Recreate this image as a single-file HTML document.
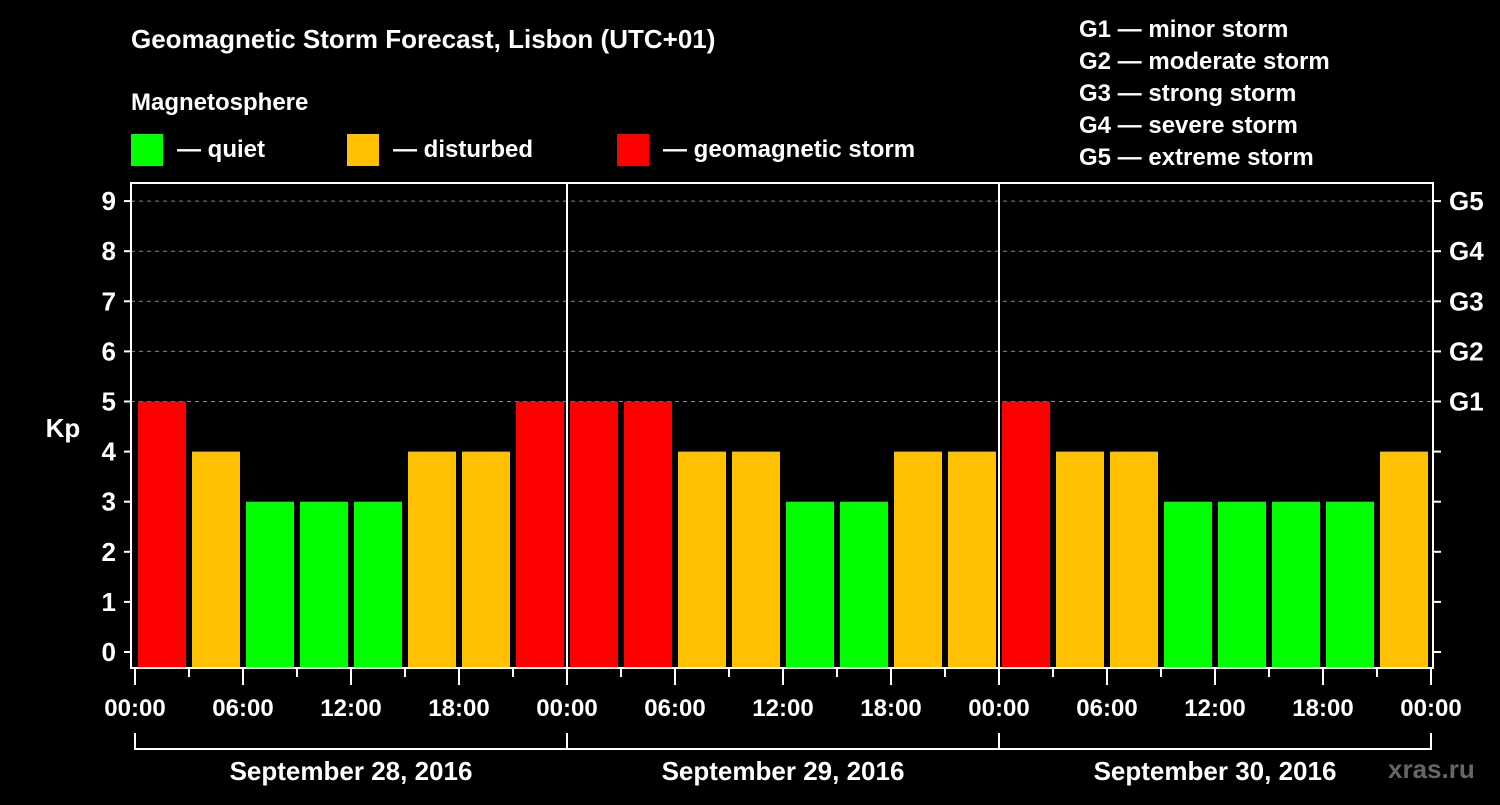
<!DOCTYPE html>
<html><head><meta charset="utf-8"><style>
body{margin:0;background:#000;width:1500px;height:800px;overflow:hidden}
svg text{font-family:"Liberation Sans",Arial,sans-serif;font-weight:bold;fill:#fff}
</style></head><body>
<svg id="c" width="1500" height="800">
<rect width="1500" height="800" fill="#000"/>
<text x="131" y="48" font-size="26">Geomagnetic Storm Forecast, Lisbon (UTC+01)</text>
<text x="131" y="110" font-size="24">Magnetosphere</text>
<g><rect x="131" y="134" width="32" height="32" fill="#00ff00"/><text x="177" y="157" font-size="24">— quiet</text></g>
<g><rect x="347" y="134" width="32" height="32" fill="#ffc000"/><text x="393" y="157" font-size="24">— disturbed</text></g>
<g><rect x="617" y="134" width="32" height="32" fill="#ff0000"/><text x="663" y="157" font-size="24">— geomagnetic storm</text></g>
<g font-size="24">
<text x="1079" y="37">G1 — minor storm</text>
<text x="1079" y="69">G2 — moderate storm</text>
<text x="1079" y="101">G3 — strong storm</text>
<text x="1079" y="133">G4 — severe storm</text>
<text x="1079" y="165">G5 — extreme storm</text>
</g>
<defs><clipPath id="pc"><rect x="135" y="183" width="1296" height="485"/></clipPath></defs>
<g id="grid"></g>
<g id="bars" clip-path="url(#pc)"></g>
<g id="axes"></g>
<text x="1388" y="778" font-size="26" fill="#555" style="fill:#666">xras.ru</text>
</svg>
<script>
const kpValues=[2,5,4,3,3,3,4,4,5,5,5,4,4,3,3,4,4,5,4,4,3,3,3,3,4];
const yTicks=[0,1,2,3,4,5,6,7,8,9];
const gLabels=["G1","G2","G3","G4","G5"];
const hourLabels=["00:00","06:00","12:00","18:00","00:00","06:00","12:00","18:00","00:00","06:00","12:00","18:00","00:00"];
const dayLabels=["September 28, 2016","September 29, 2016","September 30, 2016"];
const NS="http://www.w3.org/2000/svg";
const X0=135,PXH=18,Y0=652,PXU=50.1;
const xs=h=>X0+h*PXH, ys=v=>Y0-v*PXU;
function mk(p,t,a){const e=document.createElementNS(NS,t);for(const k in a)e.setAttribute(k,a[k]);p.appendChild(e);return e;}
const grid=document.getElementById('grid'),bars=document.getElementById('bars'),axes=document.getElementById('axes');
[5,6,7,8,9].forEach(v=>{const l=mk(grid,'line',{x1:131,x2:1431,y1:ys(v),y2:ys(v),stroke:'#888','stroke-dasharray':'4,4','stroke-width':1});

});
kpValues.forEach((v,i)=>{const c=(i-0.5)*3+0; const cx=xs(c+0.0);
const col=v>=5?'#ff0000':v>=4?'#ffc000':'#00ff00';
const r=mk(bars,'rect',{x:cx-24+0.0,y:ys(v),width:48,height:668-ys(v),fill:col});

});
[1,2].forEach(d=>{const l=mk(axes,'line',{x1:xs(24*d),x2:xs(24*d),y1:183,y2:668,stroke:'#fff','stroke-width':2});

});
mk(axes,'rect',{x:131,y:183,width:1302,height:485,fill:'none',stroke:'#fff','stroke-width':2});
yTicks.forEach(v=>{mk(axes,'line',{x1:124,x2:131,y1:ys(v),y2:ys(v),stroke:'#fff','stroke-width':2});
mk(axes,'line',{x1:1433,x2:1441,y1:ys(v),y2:ys(v),stroke:'#fff','stroke-width':2});
const t=mk(axes,'text',{x:116,y:ys(v)+9,'text-anchor':'end','font-size':26});t.textContent=v;

});
gLabels.forEach((g,i)=>{const t=mk(axes,'text',{x:1449,y:ys(i+5)+9,'font-size':26});t.textContent=g;

});
const kp=mk(axes,'text',{x:63,y:437,'text-anchor':'middle','font-size':26});kp.textContent='Kp';


for(let h=0;h<=72;h+=3){const major=h%6===0;mk(axes,'line',{x1:xs(h),x2:xs(h),y1:668,y2:major?685:677,stroke:'#fff','stroke-width':2});}
hourLabels.forEach((s,i)=>{const t=mk(axes,'text',{x:xs(i*6),y:716,'text-anchor':'middle','font-size':24});t.textContent=s;

});
mk(axes,'line',{x1:xs(0),x2:xs(72),y1:749,y2:749,stroke:'#fff','stroke-width':2});
for(let d=0;d<=3;d++)mk(axes,'line',{x1:xs(24*d),x2:xs(24*d),y1:733,y2:750,stroke:'#fff','stroke-width':2});
dayLabels.forEach((s,i)=>{const t=mk(axes,'text',{x:xs(24*i+12),y:780,'text-anchor':'middle','font-size':26});t.textContent=s;

});
</script>
</body></html>
